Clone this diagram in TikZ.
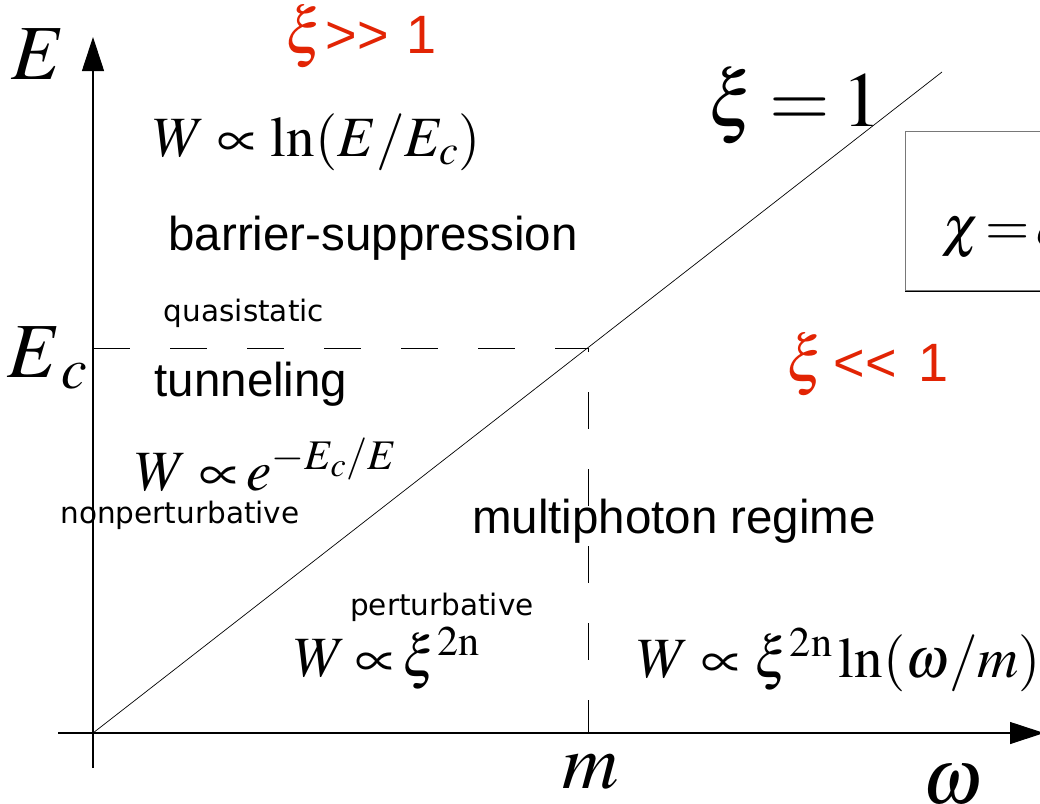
\documentclass[tikz,border=0pt]{standalone}
\usepackage{mathptmx}
\usepackage{fontspec}
\setmainfont{Liberation Serif}
\newfontfamily\labelfont{Liberation Sans}
\newfontfamily\handfont{DejaVu Sans}
\usetikzlibrary{arrows.meta}
\definecolor{regimered}{RGB}{226,36,4}
\definecolor{boxgray}{RGB}{120,120,120}
\newcommand{\bigxi}{{\fontsize{64}{64}\selectfont$\xi$}}

\begin{document}
\begin{tikzpicture}[x=1pt,y=-1pt,
    axis/.style={line width=1.1pt,-{Triangle[length=34pt,width=22pt]}},
    guide/.style={line width=0.8pt,dash pattern=on 37pt off 40pt},
    regime/.style={inner sep=0pt,font=\labelfont\fontsize{47.5}{50}\selectfont},
    note/.style={inner sep=0pt,font=\handfont\fontsize{29.5}{32}\selectfont},
    rate/.style={inner sep=0pt,font=\fontsize{57}{60}\selectfont},
    big/.style={inner sep=0pt,font=\fontsize{78}{80}\selectfont},
    cond/.style={inner sep=0pt,anchor=base west,text=regimered,font=\labelfont\fontsize{54}{58}\selectfont}]
  \useasboundingbox (0,0) rectangle (1040,803);
  \clip (0,0) rectangle (1040,803);
  \coordinate (O) at (93,733);
  \coordinate (Etop) at (93,37);
  \coordinate (Ebot) at (93,768);
  \coordinate (wleft) at (58,733);
  \coordinate (wright) at (1044,733);
  \coordinate (edge) at (942,72);
  \coordinate (crit) at (588,348);
  \coordinate (Eclevel) at (93,348);
  \coordinate (mfoot) at (588,733);
  \draw[axis] (Ebot) -- (Etop);
  \draw[axis] (wleft) -- (wright);
  \draw[line width=0.7pt] (O) -- (edge);
  \draw[guide] (Eclevel) -- (crit) -- (mfoot);
  \node[draw=boxgray,line width=1.2pt,minimum width=300pt,minimum height=159pt,anchor=north west] (chibox) at (905,131) {};
  \draw[line width=1.2pt] (chibox.south west) -- (chibox.south east);
  \node[rate,anchor=west] (chi) at (942,238) {$\chi\mkern2mu{=}\mkern2mu e$};
  \node[big] (Elab) at (38,54) {$E$};
  \node[big] (Eclab) at (48,358) {$E_{\mkern2mu c}$};
  \node[big] (mlab) at (591,772) {$m$};
  \node[big] (wlab) at (952,785) {$\omega$};
  \node[big] (xione) at (795,106) {$\xi\mkern3mu{=}\mkern3mu1$};
  \node[cond] (xigg) at (285,53) {\bigxi\kern1pt>\kern0pt>\hspace{18pt}1};
  \node[cond] (xill) at (786,381) {\bigxi\hspace{8pt}<\kern0pt<\hspace{22pt}1};
  \node[regime] (barrier) at (373,238) {barrier-suppression};
  \node[regime] (tunnel) at (251,384) {tunneling};
  \node[regime] (multi) at (674,521) {multiphoton regime};
  \node[note] (quasi) at (244,313) {quasistatic};
  \node[note] (nonpert) at (180,515) {nonperturbative};
  \node[note] (pert) at (442,607) {perturbative};
  \node[rate] (rbarrier) at (317,142) {$W\propto\ln(E/E_c)$};
  \node[rate] (rtunnel) at (266,465) {$W\mkern4mu{\propto}\mkern2mu e^{-E_c/E}$};
  \node[rate] (rpert) at (387,658) {$W\mkern3mu{\propto}\mkern2mu\xi^{2\mathrm{n}}$};
  \node[rate] (rmulti) at (839,660) {$W\propto\xi^{2\mathrm{n}}\ln(\omega/m)$};
\end{tikzpicture}
\end{document}
